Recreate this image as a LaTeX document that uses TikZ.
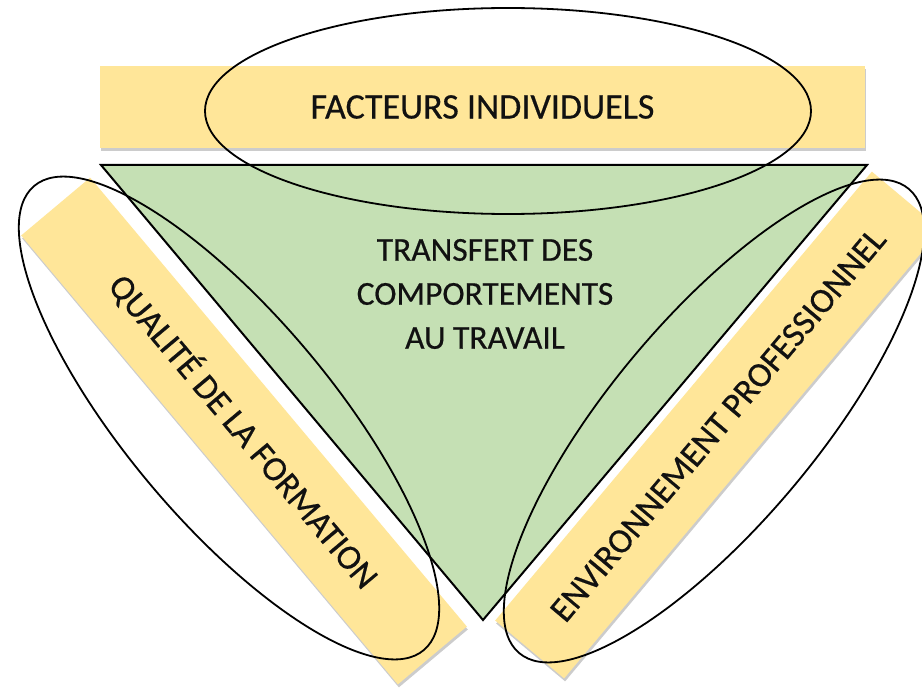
\documentclass[tikz,border=0pt]{standalone}
\usepackage{fontspec}
\setmainfont{Carlito}[FakeBold=0.5]
\usetikzlibrary{shapes.geometric,shadows}
\definecolor{barfill}{HTML}{FFE699}
\definecolor{trifill}{HTML}{C5E0B4}
\definecolor{txt}{HTML}{111111}
\tikzset{
  bar/.style={rectangle, fill=barfill, draw=none, inner sep=0pt,
    text=txt, font=\fontsize{35}{40}\selectfont,
    drop shadow={shadow xshift=1pt, shadow yshift=-3pt, opacity=0.2, fill=black}},
  ring/.style={ellipse, draw=black, line width=1.8pt, fill=none, inner sep=0pt,
    minimum width=606pt, minimum height=206pt},
  tritext/.style={text=txt, font=\fontsize{33.5}{44}\selectfont, align=center}
}
\begin{document}
\begin{tikzpicture}[x=1pt,y=-1pt]
\useasboundingbox (0,0) rectangle (922,690);
\fill[white] (0,0) rectangle (922,690);
% bars
\node[bar, minimum width=765pt, minimum height=82pt, font=\fontsize{36}{40}\selectfont] (top) at (482.5,107) {FACTEURS INDIVIDUELS};
\node[bar, minimum width=586pt, minimum height=90pt, rotate=-50] (left) at (244,431) {QUALITÉ DE LA FORMATION};
\node[bar, minimum width=586pt, minimum height=90pt, rotate=50] (right) at (718,425) {ENVIRONNEMENT PROFESSIONNEL};
% triangle
\coordinate (tA) at (101,165);
\coordinate (tB) at (867,165);
\coordinate (tC) at (483,620);
\draw[fill=trifill, line width=2pt, line join=miter] (tA) -- (tB) -- (tC) -- cycle;
\node[tritext] (tt) at (485,294) {TRANSFERT DES\\COMPORTEMENTS\\AU TRAVAIL};
% ellipses
\node[ring] (eT) at (508,111) {};
\node[ring, rotate=-50] (eL) at (229,418) {};
\node[ring, rotate=50] (eR) at (714,421) {};
\end{tikzpicture}
\end{document}
